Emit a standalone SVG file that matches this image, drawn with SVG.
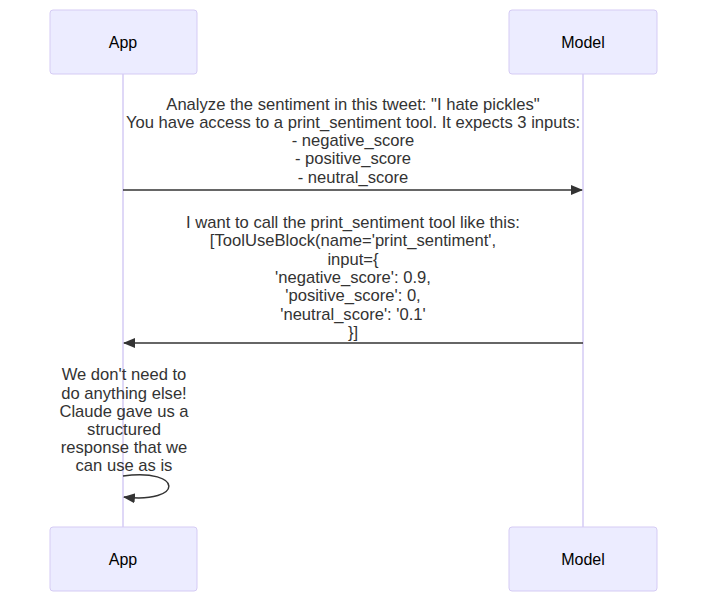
<svg xmlns="http://www.w3.org/2000/svg" width="715" height="609" viewBox="0 0 715 609">
<style>
  .actor { fill: #ECECFF; stroke: #D5CBF4; stroke-width: 1; }
  .actor-label { font-family: "Liberation Sans", Arial, sans-serif; font-size: 16px; fill: #000; text-anchor: middle; dominant-baseline: central; }
  .lifeline { stroke: #D5CBF4; stroke-width: 1.5; }
  .msg { stroke: #333; stroke-width: 1.5; fill: none; }
  .msg-text { font-family: "Liberation Sans", Arial, sans-serif; font-size: 16.6px; fill: #333; text-anchor: middle; dominant-baseline: central; }
</style>
<defs>
  <marker id="arrowhead" viewBox="0 0 12 12" refX="11" refY="6" markerWidth="12" markerHeight="12" markerUnits="userSpaceOnUse" orient="auto">
    <path d="M0,1 L12,6 L0,11 z" fill="#333"/>
  </marker>
</defs>
<rect width="715" height="609" fill="#fff"/>

<g id="lifelines">
  <line class="lifeline" x1="123" y1="74" x2="123" y2="527"/>
  <line class="lifeline" x1="583" y1="74" x2="583" y2="527"/>
</g>

<g id="actor-app-top">
  <rect class="actor" x="50" y="10" width="147" height="64" rx="3"/>
  <text class="actor-label" x="123" y="42">App</text>
</g>
<g id="actor-model-top">
  <rect class="actor" x="509" y="10" width="148" height="64" rx="3"/>
  <text class="actor-label" x="583" y="42">Model</text>
</g>
<g id="actor-app-bottom">
  <rect class="actor" x="50" y="527" width="147" height="64" rx="3"/>
  <text class="actor-label" x="123" y="559">App</text>
</g>
<g id="actor-model-bottom">
  <rect class="actor" x="509" y="527" width="148" height="64" rx="3"/>
  <text class="actor-label" x="583" y="559">Model</text>
</g>

<g id="connectors">
  <line class="msg" x1="123" y1="190" x2="582" y2="190" marker-end="url(#arrowhead)"/>
  <line class="msg" x1="583" y1="343" x2="124" y2="343" marker-end="url(#arrowhead)"/>
  <path class="msg" d="M123,476 C184,468 184,504 124,497" marker-end="url(#arrowhead)"/>
</g>

<g id="message-1-text">
  <text class="msg-text" x="353" y="104">Analyze the sentiment in this tweet: "I hate pickles"</text>
  <text class="msg-text" x="353" y="122">You have access to a print_sentiment tool. It expects 3 inputs:</text>
  <text class="msg-text" x="353" y="140">- negative_score</text>
  <text class="msg-text" x="353" y="158">- positive_score</text>
  <text class="msg-text" x="353" y="177">- neutral_score</text>
</g>
<g id="message-2-text">
  <text class="msg-text" x="353" y="222">I want to call the print_sentiment tool like this:</text>
  <text class="msg-text" x="353" y="240">[ToolUseBlock(name='print_sentiment',</text>
  <text class="msg-text" x="353" y="259">input={</text>
  <text class="msg-text" x="353" y="277">'negative_score': 0.9,</text>
  <text class="msg-text" x="353" y="295">'positive_score': 0,</text>
  <text class="msg-text" x="353" y="314">'neutral_score': '0.1'</text>
  <text class="msg-text" x="353" y="332">}]</text>
</g>
<g id="message-3-text">
  <text class="msg-text" x="124" y="374">We don't need to</text>
  <text class="msg-text" x="124" y="393">do anything else!</text>
  <text class="msg-text" x="124" y="411">Claude gave us a</text>
  <text class="msg-text" x="124" y="429">structured</text>
  <text class="msg-text" x="124" y="447">response that we</text>
  <text class="msg-text" x="124" y="465">can use as is</text>
</g>
</svg>
